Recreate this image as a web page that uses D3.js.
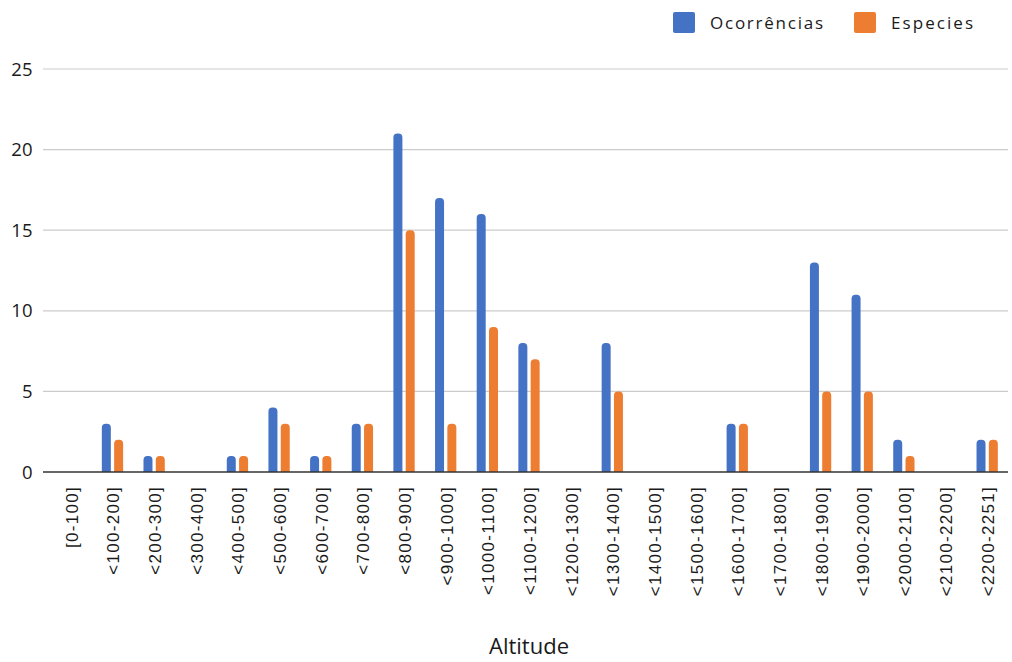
<!DOCTYPE html>
<html>
<head>
<meta charset="utf-8">
<script src="https://cdn.jsdelivr.net/npm/d3@7"></script>
<style>
  body { margin: 0; background: #fff; }
  svg { font-family: "Open Sans", "Noto Sans", sans-serif; }
</style>
</head>
<body>
<div id="chart"></div>
<script>
const categories = ["[0-100]", "<100-200]", "<200-300]", "<300-400]", "<400-500]", "<500-600]",
  "<600-700]", "<700-800]", "<800-900]", "<900-1000]", "<1000-1100]", "<1100-1200]",
  "<1200-1300]", "<1300-1400]", "<1400-1500]", "<1500-1600]", "<1600-1700]", "<1700-1800]",
  "<1800-1900]", "<1900-2000]", "<2000-2100]", "<2100-2200]", "<2200-2251]"];
const ocorrencias = [0, 3, 1, 0, 1, 4, 1, 3, 21, 17, 16, 8, 0, 8, 0, 0, 3, 0, 13, 11, 2, 0, 2];
const especies    = [0, 2, 1, 0, 1, 3, 1, 3, 15, 3, 9, 7, 0, 5, 0, 0, 3, 0, 5, 5, 1, 0, 2];
const seriesNames = ["Ocorrências", "Especies"];
const colors = ["#4472C4", "#ED7D31"];
const yTicks = [0, 5, 10, 15, 20, 25];

const width = 1012, height = 662;
const plotLeft = 43, bandLeft = 50, plotRight = 1008;
const y0 = 472, yTop = 69;

const svg = d3.select("#chart").append("svg")
  .attr("width", width).attr("height", height);

const x = d3.scaleBand().domain(categories).range([bandLeft, plotRight]);
const y = d3.scaleLinear().domain([0, 25]).range([y0, yTop]);

// gridlines + y labels
svg.append("g").selectAll("line")
  .data(yTicks.filter(d => d > 0))
  .enter().append("line")
  .attr("x1", plotLeft).attr("x2", plotRight)
  .attr("y1", d => y(d)).attr("y2", d => y(d))
  .attr("stroke", "#cccccc").attr("stroke-width", 1.2);

svg.append("g").selectAll("text")
  .data(yTicks)
  .enter().append("text")
  .attr("x", 32.5).attr("y", d => y(d))
  .attr("dy", "0.36em")
  .attr("text-anchor", "end")
  .attr("font-size", 18.5)
  .attr("fill", "#1a1a1a")
  .text(d => d);

// bars with rounded tops
const barW = 9, gap = 3.3, r = 4;
function barPath(xl, val) {
  const top = y(val), h = y0 - top;
  if (h <= 0) return "";
  const rr = Math.min(r, h, barW / 2);
  return `M${xl},${y0}V${top + rr}Q${xl},${top} ${xl + rr},${top}H${xl + barW - rr}Q${xl + barW},${top} ${xl + barW},${top + rr}V${y0}Z`;
}
[ocorrencias, especies].forEach((vals, s) => {
  svg.append("g").selectAll("path")
    .data(vals)
    .enter().append("path")
    .attr("fill", colors[s])
    .attr("d", (d, i) => {
      const c = x(categories[i]) + x.bandwidth() / 2;
      const xl = s === 0 ? c - gap / 2 - barW : c + gap / 2;
      return barPath(xl, d);
    });
});

// x axis line
svg.append("line")
  .attr("x1", plotLeft).attr("x2", plotRight)
  .attr("y1", y0).attr("y2", y0)
  .attr("stroke", "#333").attr("stroke-width", 1.5);

// x labels rotated
svg.append("g").selectAll("text")
  .data(categories)
  .enter().append("text")
  .attr("transform", d => `translate(${x(d) + x.bandwidth() / 2 + 1},486) rotate(-90)`)
  .attr("dy", "0.35em")
  .attr("text-anchor", "end")
  .attr("font-family", "'Liberation Sans', Arial, sans-serif")
  .attr("font-size", 17)
  .attr("letter-spacing", 1.3)
  .attr("fill", "#1a1a1a")
  .text(d => d);

// axis title
svg.append("text")
  .attr("x", 529).attr("y", 654)
  .attr("text-anchor", "middle")
  .attr("font-size", 22)
  .attr("fill", "#1a1a1a")
  .text("Altitude");

// legend
const legend = svg.append("g");
const legendX = [673, 854];
const legendW = [113, 82];
seriesNames.forEach((name, i) => {
  legend.append("rect")
    .attr("x", legendX[i]).attr("y", 12)
    .attr("width", 22).attr("height", 21).attr("rx", 2)
    .attr("fill", colors[i]);
  legend.append("text")
    .attr("x", legendX[i] + 37).attr("y", 29)
    .attr("font-size", 17)
    .attr("fill", "#1a1a1a")
    .attr("textLength", legendW[i])
    .attr("lengthAdjust", "spacing")
    .text(name);
});
</script>
</body>
</html>
